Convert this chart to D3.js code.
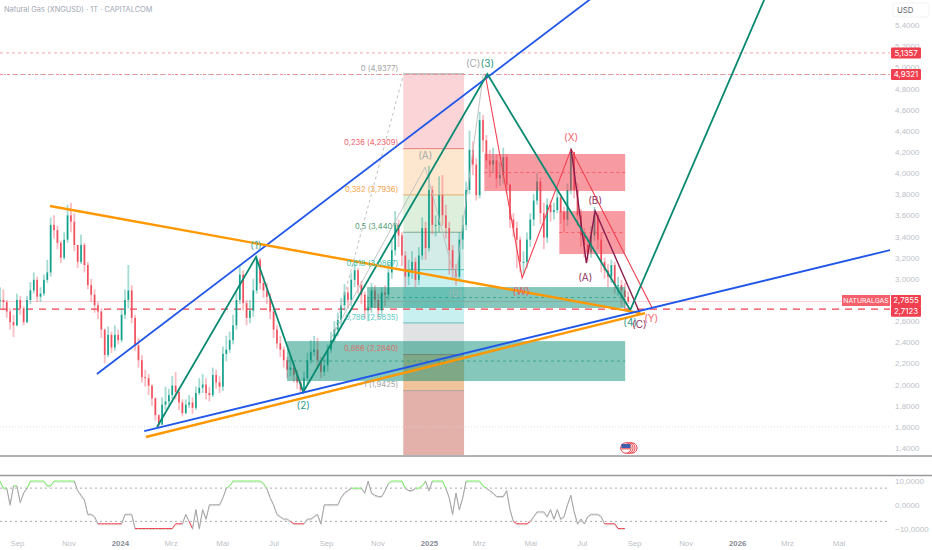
<!DOCTYPE html>
<html>
<head>
<meta charset="utf-8">
<script src="https://cdn.jsdelivr.net/npm/d3@7"></script>
<style>
  body { margin: 0; background: #fff; }
  svg { display: block; font-family: Inter, Roboto, sans-serif; }
  .domain, .tick line { display: none; }
</style>
</head>
<body>
<svg id="chart" width="932" height="550"></svg>
<script>
// one candle every 4 days, starting at firstDay
const firstDay = new Date(2023, 7, 12);

const closes = [
  2.80,2.78,2.69,2.59,2.56,2.80,2.72,2.59,2.80,2.89,
  2.99,2.83,2.86,2.99,3.06,3.51,3.46,3.34,3.20,3.37,
  3.60,3.54,3.32,3.16,3.32,3.13,2.94,2.85,2.75,2.69,
  2.52,2.28,2.47,2.35,2.47,2.42,2.66,2.80,2.89,2.63,
  2.37,2.23,2.07,2.06,1.99,1.87,1.71,1.62,1.81,1.84,
  1.90,1.99,1.93,1.83,1.73,1.81,1.83,1.78,1.92,1.97,
  2.00,1.92,1.90,2.09,2.02,1.98,2.29,2.33,2.42,2.56,
  2.80,3.04,2.77,2.63,2.70,2.89,3.18,2.96,2.89,2.83,
  2.69,2.52,2.39,2.33,2.23,2.14,2.16,2.09,2.02,1.95,
  2.06,2.23,2.31,2.33,2.23,2.12,2.18,2.33,2.42,2.52,
  2.61,2.75,2.87,2.80,2.99,3.08,2.94,2.85,2.70,2.73,
  2.89,2.80,2.70,2.87,2.85,3.06,3.27,3.51,3.41,3.22,
  3.02,3.08,3.16,2.99,3.22,3.48,3.29,3.84,3.51,3.51,
  3.79,3.60,3.48,3.27,3.08,3.02,3.37,3.51,3.84,4.22,
  4.08,3.79,4.50,4.31,4.12,4.08,4.12,3.95,3.98,4.15,
  3.89,3.56,3.48,3.37,3.16,3.16,3.37,3.56,3.74,3.92,
  3.62,3.39,3.70,3.63,3.65,3.77,3.63,3.56,3.84,4.20,
  3.84,3.60,3.41,3.32,3.25,3.41,3.60,3.37,3.16,3.08,
  3.02,3.13,2.94,2.94,2.89,2.83,2.7855
];
const highs = [
  2.92,2.90,2.80,2.72,2.66,2.86,2.84,2.74,2.84,2.97,
  3.06,3.02,2.92,3.04,3.18,3.58,3.60,3.50,3.36,3.44,
  3.70,3.72,3.62,3.32,3.42,3.34,3.16,3.00,2.90,2.78,
  2.72,2.53,2.55,2.50,2.56,2.52,2.72,2.90,3.13,2.94,
  2.66,2.44,2.28,2.14,2.10,2.00,1.88,1.72,1.88,1.98,
  1.96,2.08,2.12,1.96,1.86,1.86,1.90,1.88,1.98,2.06,
  2.10,2.06,1.98,2.16,2.14,2.08,2.36,2.46,2.50,2.66,
  2.88,3.12,3.08,2.80,2.80,3.00,3.22,3.20,3.02,2.96,
  2.86,2.72,2.56,2.46,2.36,2.26,2.26,2.20,2.14,2.04,
  2.12,2.30,2.42,2.46,2.44,2.26,2.24,2.38,2.50,2.60,
  2.68,2.82,2.95,2.92,3.06,3.14,3.10,2.98,2.88,2.82,
  2.96,2.94,2.86,2.92,2.94,3.14,3.36,3.64,3.56,3.44,
  3.26,3.18,3.26,3.20,3.30,3.58,3.54,4.07,3.88,3.60,
  3.97,3.98,3.70,3.54,3.32,3.14,3.44,3.60,3.92,4.40,
  4.30,4.14,4.58,4.55,4.36,4.22,4.24,4.18,4.10,4.24,
  4.18,3.90,3.62,3.54,3.40,3.26,3.44,3.62,3.80,4.00,
  3.96,3.72,3.76,3.74,3.72,3.84,3.80,3.68,3.90,4.24,
  4.18,3.90,3.66,3.48,3.40,3.50,3.68,3.62,3.44,3.20,
  3.14,3.18,3.16,3.02,2.99,2.96,2.88
];
const lows = [
  2.72,2.70,2.63,2.52,2.45,2.55,2.66,2.56,2.58,2.76,
  2.86,2.78,2.78,2.84,2.96,3.02,3.38,3.28,3.15,3.18,
  3.34,3.44,3.26,3.10,3.14,3.06,2.90,2.78,2.68,2.62,
  2.44,2.20,2.26,2.30,2.32,2.38,2.40,2.62,2.72,2.58,
  2.32,2.16,2.02,1.98,1.90,1.80,1.66,1.60,1.62,1.76,
  1.80,1.86,1.86,1.76,1.70,1.72,1.78,1.72,1.76,1.90,
  1.92,1.86,1.84,1.88,1.96,1.92,1.94,2.22,2.30,2.38,
  2.52,2.76,2.70,2.56,2.58,2.64,2.86,2.90,2.82,2.76,
  2.62,2.44,2.34,2.26,2.16,2.06,2.08,2.02,1.96,1.92,
  1.93,2.00,2.20,2.27,2.16,2.06,2.08,2.12,2.30,2.40,
  2.46,2.56,2.70,2.72,2.74,2.92,2.86,2.76,2.62,2.60,
  2.68,2.72,2.62,2.64,2.74,2.80,3.00,3.22,3.30,3.12,
  2.92,2.94,3.00,2.92,2.94,3.18,3.18,3.26,3.42,3.40,
  3.44,3.50,3.38,3.04,3.00,2.94,3.00,3.28,3.46,3.80,
  3.98,3.74,3.76,4.20,4.04,3.96,4.00,3.86,3.88,3.90,
  3.80,3.48,3.40,3.10,3.06,3.04,3.10,3.30,3.50,3.70,
  3.52,3.28,3.34,3.54,3.56,3.62,3.52,3.44,3.50,3.80,
  3.76,3.50,3.30,3.20,3.16,3.20,3.36,3.28,3.06,3.00,
  2.92,2.96,2.86,2.84,2.74,2.72,2.76
];

// oscillator in the lower pane, same 4 day step
const oscValues = [
  10,7,7,0,8,8,1,5,7,10,
  10,10,10,10,8,8,10,10,10,10,
  10,10,10,6,4,2,-4,-4,-5,-8,
  -8,-8,-8,-8,-8,-8,-8,-4,-4,-4,
  -10,-10,-10,-10,-10,-10,-10,-10,-10,-10,
  -10,-10,-8,-8,-8,-4,-7,-10,-2,-10,
  -2,-6,0,0,0,0,3,7,8,10,
  10,10,10,10,10,10,10,10,9,7,
  3,0,-4,-5,-6,-6,-7,-8,-8,-8,
  -8,-6,-6,-5,-4,-8,0,0,0,0,
  0,3,5,6,7,7,7,7,5,10,
  5,4,3.5,3.5,6,9,10,10,10,10,
  7,6,6,7,7,8,10,6,10,10,
  10,10,7,3,-4,5,-2,3,10,10,
  10,10,10,8,7,6,5,3.5,3.5,3.5,
  6,-2,-7,-8,-8,-8,-8,-7,-5,-3,
  -3,-3,-5,-2,-6,-2,-6,-5,0,4,
  -3,-8,-6,-8,-5,-4,-4,-4,-5,-8,
  -8,-8,-8,-10,-10,-10
];

const priceTicks = d3.range(14, 55, 2).map((d) => d / 10);
const oscTicks = [10, 0, -10];
const oscBands = [7, -7];
const monthTicks = [
  [new Date(2023, 8, 1), "Sep"], [new Date(2023, 10, 1), "Nov"], [new Date(2024, 0, 1), "2024"],
  [new Date(2024, 2, 1), "Mrz"], [new Date(2024, 4, 1), "Mai"], [new Date(2024, 6, 1), "Jul"],
  [new Date(2024, 8, 1), "Sep"], [new Date(2024, 10, 1), "Nov"], [new Date(2025, 0, 1), "2025"],
  [new Date(2025, 2, 1), "Mrz"], [new Date(2025, 4, 1), "Mai"], [new Date(2025, 6, 1), "Jul"],
  [new Date(2025, 8, 1), "Sep"], [new Date(2025, 10, 1), "Nov"], [new Date(2026, 0, 1), "2026"],
  [new Date(2026, 2, 1), "Mrz"], [new Date(2026, 4, 1), "Mai"]
];

// fibonacci retracement: level, price, label colour, band colour below the level
const fibLevels = [
  ["0", 4.9377, "#a3a3a3", "#fad4d7"],
  ["0,236", 4.2309, "#f0646c", "#fde8cf"],
  ["0,382", 3.7936, "#f5a54e", "#deefdc"],
  ["0,5", 3.4401, "#5da27c", "#d3ece7"],
  ["0,618", 3.0867, "#3fc2ae", "#c8f0f1"],
  ["0,786", 2.5835, "#5bcbc6", "#e1e2e4"],
  ["0,886", 2.284, "#d9706f", "#f1c39b"],
  ["1", 1.9425, "#a3a3a3", "#e3b1a9"]
];
const fibBars = [119.4, 137.4];
const fibBottom = 1.3;

// supply / demand boxes: first bar, last bar, top, bottom
const greenZones = [[85, 185.1, 2.411, 2.033], [108.7, 185.1, 2.922, 2.724]];
const redZones = [[143.4, 185.1, 4.18, 3.83], [165.6, 185.1, 3.641, 3.234]];

// drawn lines as [bar, price]
const orangeUpper = [[14.8, 3.688], [189.6, 2.676]];
const orangeLower = [[43.2, 1.504], [191, 2.676]];
const blueLower = [[42.7, 1.56], [263.6, 3.272]];
const blueUpper = [[28.7, 2.099], [174.8, 5.645]];
const greenWave = [[46.5, 1.598], [75.8, 3.206], [89.8, 1.929], [144.3, 4.936], [186.6, 2.705], [226.6, 5.664]];
const redWave = [[143.7, 4.927], [154.6, 3.007], [169.1, 4.227], [193.1, 2.723]];
const maroonWave = [[169.1, 4.227], [173.6, 3.149], [176.2, 3.641], [189.3, 2.686]];
const grayWave = [[97.7, 2.421], [125.9, 4.057], [134.8, 2.988], [143.1, 4.936]];
const fibTrend = [[99.2, 2.515], [119.4, 4.927]];

// wave labels: text, bar, price, colour
const waveLabels = [
  ["(1)", 75.8, 3.319, "#4aa596"], ["(2)", 89.8, 1.806, "#2f9c8a"], ["(3)", 144.3, 5.04, "#1f9a87"],
  ["(4)", 186.6, 2.591, "#3a9d8c"], ["(A)", 125.9, 4.17, "#a9a9a9"], ["(B)", 134.8, 2.865, "#9fb7b2"],
  ["(C)", 140.1, 5.04, "#a9a9a9"], ["(X)", 169.1, 4.34, "#f0656d"], ["(W)", 154.3, 2.884, "#e0606a"],
  ["(Y)", 192.8, 2.62, "#ef6b72"], ["(A)", 173.3, 3.017, "#94345f"], ["(B)", 176.2, 3.745, "#94345f"],
  ["(C)", 189.3, 2.572, "#94345f"]
];

// horizontal levels and their tags on the price axis
const level5 = 5.1357;
const level4 = 4.9321;
const lastPrice = 2.7855;
const stopLevel = 2.7123;
const supportLevel = 1.6;
const levelTags = [[5.1357, "5,1357", 0], [4.9321, "4,9321", 0], [2.7855, "2,7855", -1], [2.7123, "2,7123", 2]];

const width = 890;
const svg = d3.select("#chart");

const x = d3.scaleTime()
  .domain([firstDay, d3.timeDay.offset(firstDay, 1054)])
  .range([0, width]);
const y = d3.scaleLinear().domain([1.4, 5.4]).range([448, 25]);
const yOsc = d3.scaleLinear().domain([-10, 10]).range([528.5, 481]);

// bar index to pixel, fractional bars are fine
const xb = (b) => x(d3.timeHour.offset(firstDay, b * 96));
const comma = (d, n) => d.toFixed(n).replace(".", ",");
const linePath = d3.line().x((d) => xb(d[0])).y((d) => y(d[1]));

svg.append("clipPath").attr("id", "mainClip")
  .append("rect").attr("width", width).attr("height", 455);
svg.append("rect").attr("width", 932).attr("height", 550).attr("fill", "#fff");

const main = svg.append("g").attr("clip-path", "url(#mainClip)");

// fib bands first so everything else sits over them
fibLevels.forEach((d, i) => {
  const next = i < fibLevels.length - 1 ? fibLevels[i + 1][1] : fibBottom;
  main.append("rect")
    .attr("x", xb(fibBars[0]))
    .attr("width", xb(fibBars[1]) - xb(fibBars[0]))
    .attr("y", y(d[1]))
    .attr("height", y(next) - y(d[1]))
    .attr("fill", d[3]);
  main.append("line")
    .attr("x1", xb(fibBars[0])).attr("x2", xb(fibBars[1]))
    .attr("y1", y(d[1])).attr("y2", y(d[1]))
    .attr("stroke", d3.color(d[2]).darker(0.2))
    .attr("stroke-width", i === 0 || i === 5 ? 1.4 : 1)
    .attr("opacity", 0.75);
});

// horizontal levels
const hLevels = [
  [level5, "#f7a3a9", "3,3", 1],
  [level4, "#b9b9b9", "2,2", 1],
  [level4, "#f58d94", "3,4", 1],
  [lastPrice, "#f9c3c7", null, 0.8],
  [stopLevel, "#f23f4e", "7,6", 1.2],
  [supportLevel, "#d4d6da", "1,2", 0.8]
];
main.selectAll(".hlevel").data(hLevels).join("line")
  .attr("class", "hlevel")
  .attr("x1", 0).attr("x2", width)
  .attr("y1", (d) => y(d[0])).attr("y2", (d) => y(d[0]))
  .attr("stroke", (d) => d[1])
  .attr("stroke-dasharray", (d) => d[2])
  .attr("stroke-width", (d) => d[3]);

// candles
const candles = closes.map((c, i) => ({
  i, close: c, open: i ? closes[i - 1] : c, high: highs[i], low: lows[i]
}));
const candleColor = (d) => (d.close >= d.open ? "#12a08c" : "#f0505e");
const candleG = main.append("g");
candleG.selectAll(".wick").data(candles).join("line")
  .attr("class", "wick")
  .attr("x1", (d) => xb(d.i)).attr("x2", (d) => xb(d.i))
  .attr("y1", (d) => y(d.high)).attr("y2", (d) => y(d.low))
  .attr("stroke", candleColor)
  .attr("stroke-opacity", 0.38)
  .attr("stroke-width", 1.8);
candleG.selectAll(".body").data(candles).join("rect")
  .attr("class", "body")
  .attr("x", (d) => xb(d.i) - 0.8)
  .attr("width", 1.6)
  .attr("y", (d) => y(Math.max(d.open, d.close)))
  .attr("height", (d) => Math.max(1, Math.abs(y(d.open) - y(d.close))))
  .attr("fill", candleColor);

// zones with their dashed middle line
function addZones(zones, fill, mid) {
  zones.forEach((z) => {
    main.append("rect")
      .attr("x", xb(z[0])).attr("width", xb(z[1]) - xb(z[0]))
      .attr("y", y(z[2])).attr("height", y(z[3]) - y(z[2]))
      .attr("fill", fill);
    const m = (z[2] + z[3]) / 2;
    main.append("line")
      .attr("x1", xb(z[0])).attr("x2", xb(z[1]))
      .attr("y1", y(m)).attr("y2", y(m))
      .attr("stroke", mid)
      .attr("stroke-dasharray", "3,3")
      .attr("stroke-width", 0.8);
  });
}
addZones(greenZones, "rgba(0,137,110,0.48)", "#2a9d86");
addZones(redZones, "rgba(242,54,69,0.5)", "#f2545f");

// thin grey wave and fib trend
main.append("path").attr("d", linePath(grayWave))
  .attr("fill", "none").attr("stroke", "#bdbdbd").attr("stroke-width", 0.9);
main.append("path").attr("d", linePath(fibTrend))
  .attr("fill", "none").attr("stroke", "#b9b9b9").attr("stroke-dasharray", "3,3").attr("stroke-width", 0.9);

// trend lines and waves
const drawn = [
  [blueUpper, "#2157e8", 1.8],
  [redWave, "#f0404f", 1.1],
  [maroonWave, "#8a1c4e", 1.4],
  [greenWave, "#0a8a72", 1.8],
  [orangeUpper, "#ff9800", 2.4],
  [blueLower, "#2157e8", 1.9],
  [orangeLower, "#ff9800", 2.4]
];
main.selectAll(".drawn").data(drawn).join("path")
  .attr("class", "drawn")
  .attr("d", (d) => linePath(d[0]))
  .attr("fill", "none")
  .attr("stroke", (d) => d[1])
  .attr("stroke-width", (d) => d[2]);

// fib labels
main.selectAll(".fibLabel").data(fibLevels).join("text")
  .attr("class", "fibLabel")
  .attr("x", xb(fibBars[0]) - 5)
  .attr("y", (d) => y(d[1]) - 6)
  .attr("dy", "0.35em")
  .attr("text-anchor", "end")
  .attr("font-size", 7.6)
  .attr("fill", (d) => d[2])
  .text((d) => `${d[0]} (${comma(d[1], 4)})`);

main.selectAll(".waveLabel").data(waveLabels).join("text")
  .attr("class", "waveLabel")
  .attr("x", (d) => xb(d[1]))
  .attr("y", (d) => y(d[2]))
  .attr("dy", "0.35em")
  .attr("text-anchor", "middle")
  .attr("font-size", 10)
  .attr("fill", (d) => d[3])
  .text((d) => d[0]);

// little earnings / flag marker under the price
const flag = main.append("g").attr("transform", `translate(${xb(185.6)},${y(1.4)})`);
[5, 3, 1].forEach((dx) => {
  flag.append("circle").attr("cx", dx).attr("r", 5.2).attr("fill", "#fff").attr("stroke", "#e8404a").attr("stroke-width", 1);
});
flag.append("circle").attr("cx", -1).attr("r", 5.2).attr("fill", "#fff").attr("stroke", "#e8404a").attr("stroke-width", 1);
flag.append("rect").attr("x", -5.5).attr("y", -4).attr("width", 9).attr("height", 4).attr("fill", "#3f5fae");
flag.append("rect").attr("x", -5.5).attr("y", 0.2).attr("width", 9).attr("height", 1.2).attr("fill", "#e8505a");

// price axis
const yAxis = svg.append("g")
  .attr("transform", `translate(${width},0)`)
  .call(d3.axisRight(y).tickValues(priceTicks).tickSize(0).tickPadding(5).tickFormat((d) => comma(d, 4)));
yAxis.selectAll("text").attr("fill", "#bcbfc7").attr("font-size", 8);

// tags on the axis
const tagG = svg.selectAll(".tag").data(levelTags).join("g")
  .attr("class", "tag")
  .attr("transform", (d) => `translate(${width + 1},${y(d[0]) + d[2]})`);
tagG.append("rect").attr("x", 0).attr("y", -5.5).attr("width", 30).attr("height", 11).attr("rx", 1).attr("fill", "#f0404f");
tagG.append("text").attr("x", 15).attr("dy", "0.35em").attr("text-anchor", "middle")
  .attr("font-size", 7.8).attr("fill", "#fff").text((d) => d[1]);

const symbolTag = svg.append("g").attr("transform", `translate(${width},${y(lastPrice) - 1})`);
symbolTag.append("rect").attr("x", -48).attr("y", -5.5).attr("width", 48).attr("height", 11).attr("fill", "#f4606c");
symbolTag.append("text").attr("x", -24).attr("dy", "0.35em").attr("text-anchor", "middle")
  .attr("font-size", 6.8).attr("fill", "#fff").text("NATURALGAS");

svg.append("rect").attr("x", 893).attr("y", 3).attr("width", 36).attr("height", 14).attr("rx", 2)
  .attr("fill", "#fff").attr("stroke", "#f2f3f5");
svg.append("text").attr("x", 897).attr("y", 13).attr("font-size", 7.8).attr("fill", "#5f6670").text("USD");

svg.append("text").attr("x", 4).attr("y", 12).attr("font-size", 7.4).attr("fill", "#a2a8b4")
  .text("Natural Gas (XNGUSD) · 1T · CAPITALCOM");

// pane separators
svg.selectAll(".sep").data([456, 475.5]).join("line")
  .attr("class", "sep")
  .attr("x1", 0).attr("x2", 932)
  .attr("y1", (d) => d).attr("y2", (d) => d)
  .attr("stroke", "#9a9a9e").attr("stroke-width", 1.5);

// oscillator pane
svg.selectAll(".oscBand").data(oscBands).join("line")
  .attr("class", "oscBand")
  .attr("x1", 0).attr("x2", width)
  .attr("y1", (d) => yOsc(d)).attr("y2", (d) => yOsc(d))
  .attr("stroke", "#a9a9a9").attr("stroke-dasharray", "2,3").attr("stroke-width", 1);

const oscSegs = oscValues.slice(1).map((v, i) => ({ i, a: oscValues[i], b: v }));
const oscColor = (d) => (d.b >= 7 && d.a >= 7 ? "#76f05f" : d.b <= -7 && d.a <= -7 ? "#f2404e" : "#a5a5a5");
svg.append("path")
  .attr("d", d3.line().x((d, i) => xb(i)).y((d) => yOsc(d) + 1)(oscValues))
  .attr("fill", "none").attr("stroke", "#dcdcdc").attr("stroke-width", 1);
svg.selectAll(".oscSeg").data(oscSegs).join("line")
  .attr("class", "oscSeg")
  .attr("x1", (d) => xb(d.i)).attr("x2", (d) => xb(d.i + 1))
  .attr("y1", (d) => yOsc(d.a)).attr("y2", (d) => yOsc(d.b))
  .attr("stroke", oscColor).attr("stroke-width", 1);

const oscAxis = svg.append("g")
  .attr("transform", `translate(${width},0)`)
  .call(d3.axisRight(yOsc).tickValues(oscTicks).tickSize(0).tickPadding(5)
    .tickFormat((d) => (d < 0 ? "−" : "") + comma(Math.abs(d), 4)));
oscAxis.selectAll("text").attr("fill", "#bcbfc7").attr("font-size", 8);

// time axis
const xAxis = svg.append("g")
  .attr("transform", "translate(0,536)")
  .call(d3.axisBottom(x).tickValues(monthTicks.map((d) => d[0])).tickSize(0).tickPadding(4)
    .tickFormat((d, i) => monthTicks[i][1]));
xAxis.selectAll("text")
  .attr("font-size", 7.8)
  .attr("fill", (d, i) => (/^20/.test(monthTicks[i][1]) ? "#868b96" : "#bcbfc7"))
  .attr("font-weight", (d, i) => (/^20/.test(monthTicks[i][1]) ? 600 : 400));
</script>
</body>
</html>
